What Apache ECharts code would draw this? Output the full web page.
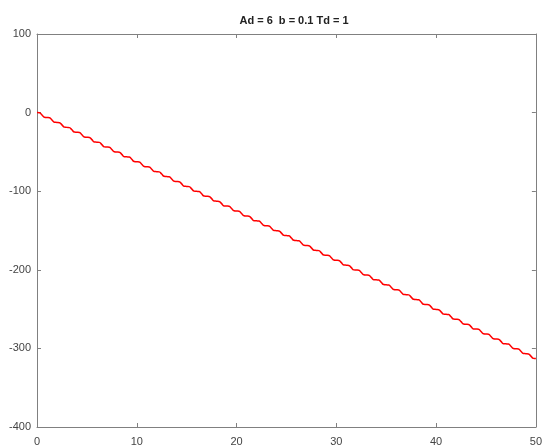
<!DOCTYPE html>
<html>
<head>
<meta charset="utf-8">
<script src="https://cdn.jsdelivr.net/npm/echarts@6/dist/echarts.min.js"></script>
<style>
  html, body { margin: 0; padding: 0; background: #fff; }
  #chart { width: 545px; height: 447px; }
</style>
</head>
<body>
<div id="chart"></div>
<script>
// values, four samples per wiggle
var xVals = [
  0, 0.25, 0.5, 0.75, 1, 1.25, 1.5, 1.75, 2, 2.25, 2.5, 2.75, 3, 3.25, 3.5, 3.75, 4, 4.25, 4.5, 4.75,
  5, 5.25, 5.5, 5.75, 6, 6.25, 6.5, 6.75, 7, 7.25, 7.5, 7.75, 8, 8.25, 8.5, 8.75, 9, 9.25, 9.5, 9.75,
  10, 10.25, 10.5, 10.75, 11, 11.25, 11.5, 11.75, 12, 12.25, 12.5, 12.75, 13, 13.25, 13.5, 13.75, 14, 14.25, 14.5, 14.75,
  15, 15.25, 15.5, 15.75, 16, 16.25, 16.5, 16.75, 17, 17.25, 17.5, 17.75, 18, 18.25, 18.5, 18.75, 19, 19.25, 19.5, 19.75,
  20, 20.25, 20.5, 20.75, 21, 21.25, 21.5, 21.75, 22, 22.25, 22.5, 22.75, 23, 23.25, 23.5, 23.75, 24, 24.25, 24.5, 24.75,
  25, 25.25, 25.5, 25.75, 26, 26.25, 26.5, 26.75, 27, 27.25, 27.5, 27.75, 28, 28.25, 28.5, 28.75, 29, 29.25, 29.5, 29.75,
  30, 30.25, 30.5, 30.75, 31, 31.25, 31.5, 31.75, 32, 32.25, 32.5, 32.75, 33, 33.25, 33.5, 33.75, 34, 34.25, 34.5, 34.75,
  35, 35.25, 35.5, 35.75, 36, 36.25, 36.5, 36.75, 37, 37.25, 37.5, 37.75, 38, 38.25, 38.5, 38.75, 39, 39.25, 39.5, 39.75,
  40, 40.25, 40.5, 40.75, 41, 41.25, 41.5, 41.75, 42, 42.25, 42.5, 42.75, 43, 43.25, 43.5, 43.75, 44, 44.25, 44.5, 44.75,
  45, 45.25, 45.5, 45.75, 46, 46.25, 46.5, 46.75, 47, 47.25, 47.5, 47.75, 48, 48.25, 48.5, 48.75, 49, 49.25, 49.5, 49.75,
  50];
var yVals = [
  0, -0.3, -3.1, -6.0, -6.3, -6.6, -9.4, -12.3, -12.5, -12.8, -15.6, -18.5, -18.8, -19.1, -21.9, -24.8, -25.0, -25.3, -28.1, -31.0,
  -31.3, -31.6, -34.4, -37.3, -37.6, -37.9, -40.7, -43.6, -43.8, -44.1, -46.9, -49.8, -50.1, -50.4, -53.2, -56.1, -56.3, -56.6, -59.4, -62.3,
  -62.6, -62.9, -65.7, -68.6, -68.9, -69.2, -72.0, -74.9, -75.1, -75.4, -78.2, -81.1, -81.4, -81.7, -84.5, -87.4, -87.6, -87.9, -90.7, -93.6,
  -93.9, -94.2, -97.0, -99.9, -100.2, -100.5, -103.3, -106.2, -106.4, -106.7, -109.5, -112.4, -112.7, -113.0, -115.8, -118.7, -118.9, -119.2, -122.0, -124.9,
  -125.2, -125.5, -128.3, -131.2, -131.5, -131.8, -134.6, -137.5, -137.7, -138.0, -140.8, -143.7, -144.0, -144.3, -147.1, -150.0, -150.2, -150.5, -153.3, -156.2,
  -156.5, -156.8, -159.6, -162.5, -162.8, -163.1, -165.9, -168.8, -169.0, -169.3, -172.1, -175.0, -175.3, -175.6, -178.4, -181.3, -181.5, -181.8, -184.6, -187.5,
  -187.8, -188.1, -190.9, -193.8, -194.1, -194.4, -197.2, -200.1, -200.3, -200.6, -203.4, -206.3, -206.6, -206.9, -209.7, -212.6, -212.8, -213.1, -215.9, -218.8,
  -219.1, -219.4, -222.2, -225.1, -225.4, -225.7, -228.5, -231.4, -231.6, -231.9, -234.7, -237.6, -237.9, -238.2, -241.0, -243.9, -244.1, -244.4, -247.2, -250.1,
  -250.4, -250.7, -253.5, -256.4, -256.7, -257.0, -259.8, -262.7, -262.9, -263.2, -266.0, -268.9, -269.2, -269.5, -272.3, -275.2, -275.4, -275.7, -278.5, -281.4,
  -281.7, -282.0, -284.8, -287.7, -288.0, -288.3, -291.1, -294.0, -294.2, -294.5, -297.3, -300.2, -300.5, -300.8, -303.6, -306.5, -306.7, -307.0, -309.8, -312.7,
  -313.0];
var xTicks = [0, 10, 20, 30, 40, 50];
var yTicks = [-400, -300, -200, -100, 0, 100];
var titleText = 'Ad = 6  b = 0.1 Td = 1';

var pts = [];
for (var i = 0; i < xVals.length; i++) pts.push([xVals[i], yVals[i]]);

var axisCol = '#808080';
var labelStyle = { color: '#444', fontSize: 11, fontFamily: 'Liberation Sans, Arial, sans-serif' };

function boxAxis(pos, ticks, step, labels, gap) {
  return {
    type: 'value', position: pos,
    min: ticks[0], max: ticks[ticks.length - 1], interval: step,
    axisLine: { show: true, onZero: false, lineStyle: { color: axisCol } },
    axisTick: { show: true, inside: true, length: 4, lineStyle: { color: axisCol } },
    axisLabel: labels ? Object.assign({ margin: gap }, labelStyle) : { show: false },
    splitLine: { show: false }
  };
}

var myChart = echarts.init(document.getElementById('chart'));
var option = {
  animation: false,
  title: {
    text: titleText,
    left: 289, top: 10, textAlign: 'center',
    textStyle: { fontSize: 11, fontWeight: 'bold', color: '#222', fontFamily: 'Liberation Sans, Arial, sans-serif' }
  },
  grid: { left: 37, right: 6, top: 34, bottom: 18, containLabel: false },
  xAxis: [boxAxis('bottom', xTicks, 10, true, 9), boxAxis('top', xTicks, 10, false)],
  yAxis: [boxAxis('left', yTicks, 100, true, 6), boxAxis('right', yTicks, 100, false)],
  series: [{
    type: 'line',
    data: pts,
    smooth: true,
    showSymbol: false,
    lineStyle: { color: '#ff0000', width: 1.5 }
  }]
};
myChart.setOption(option);
</script>
</body>
</html>
